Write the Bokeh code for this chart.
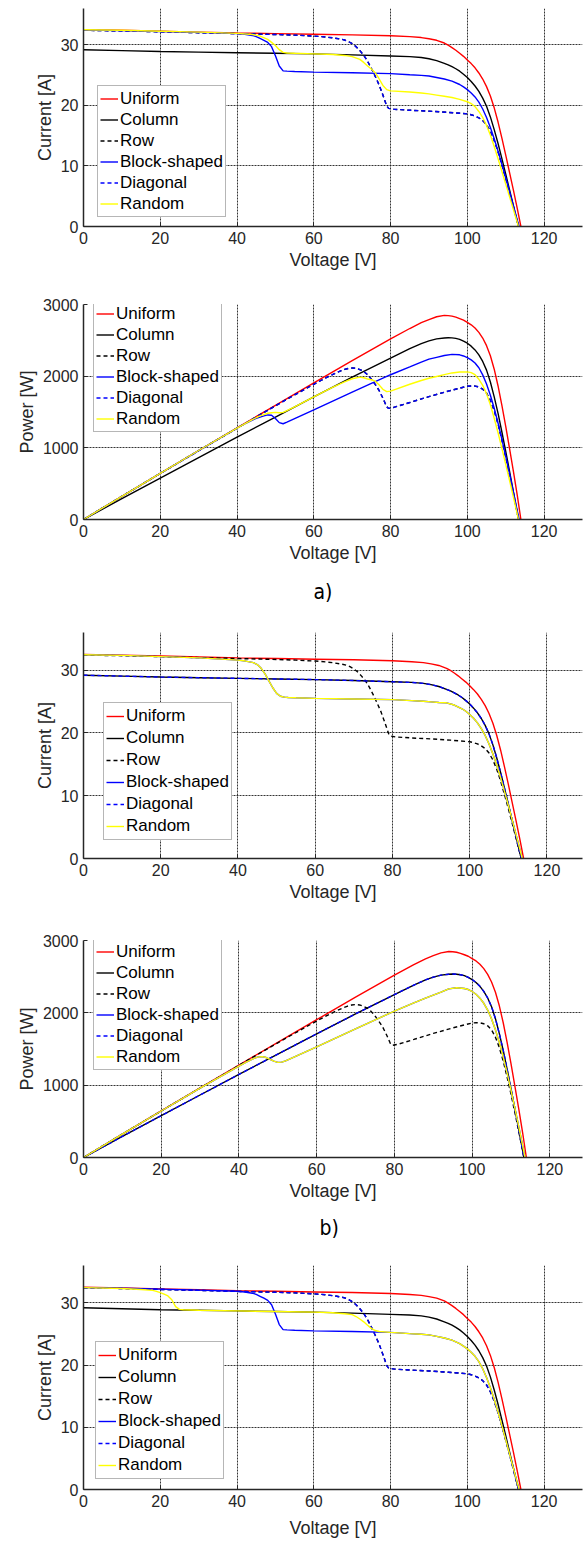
from bokeh.plotting import figure
from bokeh.layouts import column
from bokeh.models import Range1d, Legend, LegendItem, Title, FixedTicker
from bokeh.embed import file_html
from bokeh.resources import INLINE

# ---------------- data ----------------
X_TICKS = [0, 20, 40, 60, 80, 100, 120]
I_TICKS = [0, 10, 20, 30]
P_TICKS = [0, 1000, 2000, 3000]
LABELS = ["Uniform", "Column", "Row", "Block-shaped", "Diagonal", "Random"]

# Uniform
V_U = [0, 10, 20, 30, 40, 50, 60, 70, 80, 85, 88, 90, 92, 94, 95, 96, 97, 98, 99, 100, 101, 102, 103, 104, 105, 106, 107, 108, 109, 110, 111, 112, 113, 113.95]
I_U = [32.5, 32.4, 32.25, 32.1, 31.95, 31.85, 31.75, 31.65, 31.5, 31.35, 31.2, 31.0, 30.75, 30.3, 29.95, 29.55, 29.1, 28.6, 28.1, 27.5, 26.9, 26.2, 25.35, 24.35, 23.1, 21.55, 19.6, 17.25, 14.6, 11.8, 8.9, 6.0, 3.0, 0.0]
P_U = [0, 324, 645, 963, 1278, 1593, 1905, 2216, 2520, 2665, 2746, 2790, 2829, 2848, 2845, 2837, 2823, 2803, 2782, 2750, 2717, 2672, 2611, 2532, 2426, 2284, 2097, 1863, 1591, 1298, 988, 672, 339, 0]

# Column
V_C = [0, 10, 20, 30, 40, 50, 60, 70, 80, 85, 88, 90, 92, 94, 95, 96, 97, 98, 99, 100, 101, 102, 103, 104, 105, 106, 107, 108, 109, 110, 111, 112, 113, 113.33]
I_C = [29.2, 29.05, 28.9, 28.8, 28.7, 28.6, 28.5, 28.35, 28.15, 28.05, 27.9, 27.7, 27.4, 26.95, 26.7, 26.4, 26.05, 25.65, 25.15, 24.6, 23.95, 23.2, 22.3, 21.2, 19.85, 18.1, 16.0, 13.7, 11.2, 8.65, 6.05, 3.45, 0.85, 0.0]
P_C = [0, 291, 578, 864, 1148, 1430, 1710, 1985, 2252, 2384, 2455, 2493, 2521, 2533, 2537, 2534, 2527, 2514, 2490, 2460, 2419, 2366, 2297, 2205, 2084, 1919, 1712, 1480, 1221, 952, 672, 386, 96, 0]

# Row / Diagonal shape (step near 80 V)
V_D = [0, 10, 20, 30, 40, 50, 55, 60, 63, 65, 67, 68, 69, 70, 71, 72, 73, 74, 75, 76, 77, 78, 79, 79.5, 81, 85, 90, 95, 100, 101, 102, 103, 104, 105, 106, 107, 108, 109, 110, 111, 112, 113, 113.33]
I_D = [32.4, 32.3, 32.15, 32.0, 31.85, 31.7, 31.6, 31.45, 31.3, 31.15, 30.95, 30.8, 30.55, 30.2, 29.7, 29.05, 28.3, 27.3, 26.1, 24.8, 23.4, 21.7, 19.9, 19.5, 19.35, 19.2, 19.05, 18.85, 18.6, 18.45, 18.25, 17.95, 17.5, 16.8, 15.7, 14.2, 12.35, 10.2, 7.95, 5.6, 3.2, 0.8, 0.0]
P_D = [0, 323, 643, 960, 1274, 1585, 1738, 1887, 1972, 2025, 2074, 2094, 2108, 2114, 2109, 2092, 2066, 2020, 1958, 1885, 1802, 1693, 1572, 1550, 1567, 1632, 1715, 1791, 1860, 1863, 1862, 1849, 1820, 1764, 1664, 1519, 1334, 1112, 875, 622, 358, 90, 0]

# Block-shaped (step near 50 V), cases a) and c)
V_B = [0, 10, 20, 30, 40, 42, 44, 45, 46, 47, 48, 49, 50, 51, 52, 53, 55, 60, 70, 80, 85, 88, 90, 92, 94, 96, 98, 99, 100, 101, 102, 103, 104, 105, 106, 107, 108, 109, 110, 111, 112, 113, 113.5]
I_B = [32.45, 32.35, 32.2, 32.05, 31.85, 31.75, 31.55, 31.35, 31.05, 30.75, 30.4, 29.7, 28.2, 26.5, 25.7, 25.65, 25.6, 25.5, 25.4, 25.25, 25.05, 24.95, 24.85, 24.6, 24.35, 24.0, 23.45, 23.05, 22.6, 22.05, 21.4, 20.55, 19.4, 18.0, 16.35, 14.5, 12.45, 10.25, 8.0, 5.7, 3.4, 1.1, 0.0]
P_B = [0, 324, 644, 962, 1274, 1334, 1388, 1411, 1428, 1445, 1459, 1455, 1410, 1352, 1336, 1359, 1408, 1530, 1778, 2020, 2129, 2196, 2237, 2263, 2289, 2304, 2298, 2282, 2260, 2227, 2183, 2117, 2018, 1890, 1733, 1552, 1345, 1117, 880, 633, 381, 124, 0]

# Block-shaped / Random, case b)
V_BB = [0, 10, 20, 30, 40, 42, 44, 45, 46, 47, 48, 49, 50, 51, 52, 53, 55, 60, 70, 80, 85, 88, 90, 92, 94, 96, 98, 99, 100, 101, 102, 103, 104, 105, 106, 107, 108, 109, 110, 111, 112, 113, 113.6]
I_BB = [32.45, 32.35, 32.15, 31.95, 31.6, 31.45, 31.2, 30.9, 30.3, 29.4, 28.3, 27.2, 26.3, 25.85, 25.7, 25.65, 25.6, 25.5, 25.4, 25.3, 25.15, 25.05, 24.95, 24.85, 24.8, 24.45, 23.85, 23.45, 22.95, 22.35, 21.6, 20.7, 19.6, 18.25, 16.65, 14.85, 12.85, 10.7, 8.45, 6.15, 3.8, 1.45, 0.0]
P_BB = [0, 324, 643, 959, 1264, 1321, 1373, 1391, 1394, 1382, 1358, 1333, 1315, 1318, 1336, 1359, 1408, 1530, 1778, 2024, 2138, 2204, 2246, 2286, 2331, 2347, 2337, 2322, 2295, 2257, 2203, 2132, 2038, 1916, 1765, 1589, 1388, 1166, 930, 683, 426, 164, 0]

# Random, case a)
V_RA = [0, 10, 20, 30, 40, 44, 46, 48, 49, 50, 51, 52, 53, 55, 60, 65, 68, 70, 72, 73, 74, 75, 76, 77, 78, 79, 80, 85, 88, 90, 92, 94, 96, 98, 100, 101, 102, 103, 104, 105, 106, 107, 108, 109, 110, 111, 112, 113, 113.3]
I_RA = [32.5, 32.4, 32.25, 32.1, 31.9, 31.7, 31.45, 30.9, 30.4, 29.9, 29.2, 28.75, 28.65, 28.6, 28.5, 28.4, 28.25, 28.05, 27.6, 27.1, 26.5, 26.0, 25.4, 24.4, 23.3, 22.6, 22.4, 22.2, 22.05, 21.9, 21.7, 21.5, 21.3, 21.0, 20.6, 20.3, 19.8, 19.0, 18.0, 16.7, 15.1, 13.2, 11.2, 9.1, 7.0, 4.9, 2.8, 0.7, 0.0]
P_RA = [0, 324, 645, 963, 1276, 1395, 1447, 1483, 1490, 1495, 1489, 1495, 1518, 1573, 1710, 1846, 1921, 1964, 1987, 1978, 1961, 1950, 1930, 1879, 1817, 1785, 1792, 1887, 1940, 1971, 1996, 2021, 2045, 2058, 2060, 2050, 2020, 1957, 1872, 1754, 1601, 1412, 1210, 992, 770, 544, 314, 79, 0]

# Random, case c)
V_RC = [0, 10, 15, 18, 19, 20, 21, 22, 23, 24, 25, 26, 30, 40, 50, 60, 65, 68, 70, 71, 72, 73, 74, 75, 76, 77, 80, 85, 88, 90, 92, 94, 96, 98, 99, 100, 101, 102, 103, 104, 105, 106, 107, 108, 109, 110, 111, 112, 113, 113.5]
I_RC = [32.45, 32.3, 32.15, 32.0, 31.85, 31.65, 31.4, 31.1, 30.5, 29.4, 28.95, 28.9, 28.8, 28.7, 28.6, 28.5, 28.4, 28.25, 28.1, 27.8, 27.4, 26.95, 26.4, 25.9, 25.55, 25.4, 25.25, 25.05, 24.95, 24.85, 24.6, 24.35, 24.0, 23.45, 23.05, 22.6, 22.05, 21.4, 20.55, 19.4, 18.0, 16.35, 14.5, 12.45, 10.25, 8.0, 5.7, 3.4, 1.1, 0.0]

# ---------------- styling ----------------
FONT = "Liberation Sans"
NARROW = "'Liberation Sans Narrow', 'DejaVu Sans Condensed', 'Roboto Condensed', sans-serif"
TXT = "#262626"
STYLES = [("#ff0000", "solid"), ("#000000", "solid"), ("#000000", "4 3"),
          ("#0000ff", "solid"), ("#0000ff", "4 3"), ("#ffff00", "solid")]


def make_fig(width, height, bl, br, bt, bb, xend, ymax, yticks, ylabel, series,
             legend_xy, label_h, xlabel_standoff=3):
    p = figure(width=width, height=height, output_backend="svg", toolbar_location=None,
               x_range=Range1d(0, xend), y_range=Range1d(0, ymax),
               min_border_left=bl, min_border_right=br, min_border_top=bt,
               min_border_bottom=bb)
    p.outline_line_color = None
    p.background_fill_color = "white"
    p.border_fill_color = "white"
    p.xaxis.ticker = FixedTicker(ticks=X_TICKS)
    p.yaxis.ticker = FixedTicker(ticks=yticks)
    p.xaxis.axis_label = "Voltage [V]"
    p.yaxis.axis_label = ylabel
    for ax in (p.xaxis[0], p.yaxis[0]):
        ax.major_tick_in = 4
        ax.major_tick_out = 0
        ax.minor_tick_in = 0
        ax.minor_tick_out = 0
        ax.major_tick_line_color = TXT
        ax.axis_line_color = TXT
        ax.axis_line_width = 1.5
        ax.major_label_text_font = FONT
        ax.major_label_text_font_size = "16px"
        ax.major_label_text_color = TXT
        ax.major_label_standoff = 5
        ax.axis_label_text_font = FONT
        ax.axis_label_text_font_size = "18px"
        ax.axis_label_text_font_style = "normal"
        ax.axis_label_text_color = TXT
        ax.axis_label_standoff = 3
    p.xaxis[0].axis_label_standoff = xlabel_standoff
    p.grid.grid_line_color = "#1e1e1e"
    p.grid.grid_line_dash = "2 1"
    p.grid.grid_line_width = 1
    p.grid.grid_line_alpha = 0.9

    items = []
    for (xs, ys), label, (col, dash) in zip(series, LABELS, STYLES):
        r = p.line(xs, ys, line_color=col, line_dash=dash, line_width=1.4)
        items.append(LegendItem(label=label, renderers=[r]))
    leg = Legend(items=items, location=legend_xy)
    leg.label_text_font = FONT
    leg.label_text_font_size = "17px"
    leg.label_text_color = "#000000"
    leg.label_height = label_h
    leg.glyph_height = label_h
    leg.glyph_width = 18
    leg.label_standoff = 2
    leg.spacing = 0
    leg.padding = 2
    leg.margin = 0
    leg.border_line_color = "#6e6e6e"
    leg.border_line_width = 1
    leg.background_fill_color = "white"
    leg.background_fill_alpha = 1
    p.add_layout(leg)
    return p


# case a)
f1 = make_fig(584, 282, 83, 2, 8, 56, 130, 36, I_TICKS, "Current [A]",
              [(V_U, I_U), (V_C, I_C), (V_D, I_D), (V_B, I_B), (V_D, I_D), (V_RA, I_RA)],
              (14, 9), 21)
f2 = make_fig(584, 333, 83, 2, 22, 94, 130, 3000, P_TICKS, "Power [W]",
              [(V_U, P_U), (V_C, P_C), (V_D, P_D), (V_B, P_B), (V_D, P_D), (V_RA, P_RA)],
              (10, 87), 21)
f2.add_layout(Title(text="a)", align="left", offset=230, standoff=24,
                    text_font=NARROW, text_font_size="21px", text_font_style="normal",
                    text_color="#000000"), "below")

# case b)
f3 = make_fig(584, 297, 79, 0, 17, 54, 129.2, 36, I_TICKS, "Current [A]",
              [(V_U, I_U), (V_C, I_C), (V_D, I_D), (V_BB, I_BB), (V_C, I_C), (V_BB, I_BB)],
              (20, 18), 22)
f4 = make_fig(584, 338, 77, 0, 28, 93, 128.4, 3000, P_TICKS, "Power [W]",
              [(V_U, P_U), (V_C, P_C), (V_D, P_D), (V_BB, P_BB), (V_C, P_C), (V_BB, P_BB)],
              (10, 87), 21)
f4.add_layout(Title(text="b)", align="left", offset=236, standoff=21,
                    text_font=NARROW, text_font_size="21px", text_font_style="normal",
                    text_color="#000000"), "below")

# case c)
f5 = make_fig(584, 290, 82, 0, 15, 47, 130, 36, I_TICKS, "Current [A]",
              [(V_U, I_U), (V_C, I_C), (V_D, I_D), (V_B, I_B), (V_D, I_D), (V_RC, I_RC)],
              (12, 10), 22, xlabel_standoff=8)

layout = column(f1, f2, f3, f4, f5)
open("out.html", "w").write(file_html(layout, INLINE))
